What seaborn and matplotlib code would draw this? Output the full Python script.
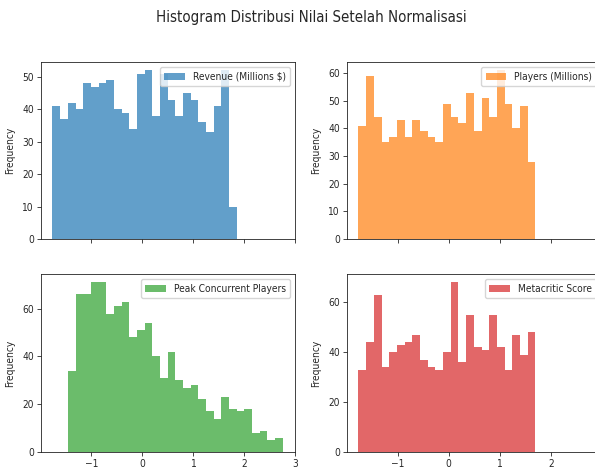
import numpy as np
import pandas as pd
import matplotlib
matplotlib.use("Agg")
import matplotlib.pyplot as plt
from matplotlib import font_manager as fm
import seaborn as sns

# ---- data ----
value_min = -1.765
value_max = 2.75
n_bins = 30

revenue_counts = [41, 37, 42, 40, 48, 47, 48, 49, 40, 39, 34, 51, 52, 38, 51, 43,
                  38, 45, 43, 36, 33, 41, 52, 10]
revenue_first_bin = 0

players_counts = [41, 59, 44, 35, 37, 43, 37, 43, 39, 37, 35, 49, 44, 42, 53, 39,
                  51, 44, 61, 49, 40, 48, 28]
players_first_bin = 0

peak_counts = [34, 66, 66, 71, 71, 58, 61, 63, 48, 51, 54, 40, 31, 42, 30, 27,
               28, 22, 17, 14, 23, 18, 17, 18, 8, 9, 5, 6]
peak_first_bin = 2

meta_counts = [33, 44, 63, 34, 40, 43, 44, 47, 37, 34, 33, 40, 68, 36, 55, 42,
               41, 55, 42, 33, 47, 39, 48]
meta_first_bin = 0

labels = ["Revenue (Millions $)", "Players (Millions)",
          "Peak Concurrent Players", "Metacritic Score"]
title = "Histogram Distribusi Nilai Setelah Normalisasi"

sns.set_style("ticks")

# condensed DejaVu face, if installed
cond_path = None
for f in fm.fontManager.ttflist:
    if f.fname.endswith("DejaVuSansCondensed.ttf"):
        cond_path = f.fname
        break


def fp(size):
    if cond_path:
        return fm.FontProperties(fname=cond_path, size=size)
    return fm.FontProperties(family="DejaVu Sans", size=size)


edges = np.linspace(value_min, value_max, n_bins + 1)
centers = (edges[:-1] + edges[1:]) / 2

series = [
    (labels[0], revenue_counts, revenue_first_bin, "tab:blue", 10),
    (labels[1], players_counts, players_first_bin, "tab:orange", 10),
    (labels[2], peak_counts, peak_first_bin, "tab:green", 20),
    (labels[3], meta_counts, meta_first_bin, "tab:red", 20),
]

fig = plt.figure(figsize=(5.95, 4.72), dpi=100)
W = 0.4277
positions = [
    [41 / 595, 1 - 239 / 472, W, 177 / 472],
    [347 / 595, 1 - 239 / 472, W, 177 / 472],
    [41 / 595, 1 - 452 / 472, W, 178 / 472],
    [347 / 595, 1 - 452 / 472, W, 178 / 472],
]
xticks = [[-1, 0, 1, 2, 3], [-1, 0, 1, 2], [-1, 0, 1, 2, 3], [-1, 0, 1, 2]]

fs = 7.3
for i, (pos, (lab, counts, first, color, ystep)) in enumerate(zip(positions, series)):
    ax = fig.add_axes(pos)
    df = pd.DataFrame({"value": centers[first:first + len(counts)], "count": counts})
    sns.histplot(data=df, x="value", weights="count", bins=n_bins,
                 binrange=(value_min, value_max), color=color,
                 alpha=0.7, linewidth=0, edgecolor="none", ax=ax, label=lab)
    ax.set_xlim(-1.99, 2.99)
    ax.set_xticks(xticks[i])
    ax.yaxis.set_major_locator(matplotlib.ticker.MultipleLocator(ystep))
    ax.set_xlabel("")
    ax.set_ylabel("Frequency", fontproperties=fp(fs), labelpad=5)
    ax.tick_params(length=3, width=0.6, pad=2)
    for t in ax.get_xticklabels() + ax.get_yticklabels():
        t.set_fontproperties(fp(fs))
    for s in ax.spines.values():
        s.set_linewidth(0.6)
        s.set_color("#222222")
    ax.legend(loc="upper right", prop=fp(fs), framealpha=0.8, borderpad=0.45,
              handlelength=2.0)
    if i < 2:
        ax.tick_params(labelbottom=False)

fig.suptitle(title, fontproperties=fp(10.8), x=0.524, y=0.978)
fig.savefig("out.png", dpi=100)
